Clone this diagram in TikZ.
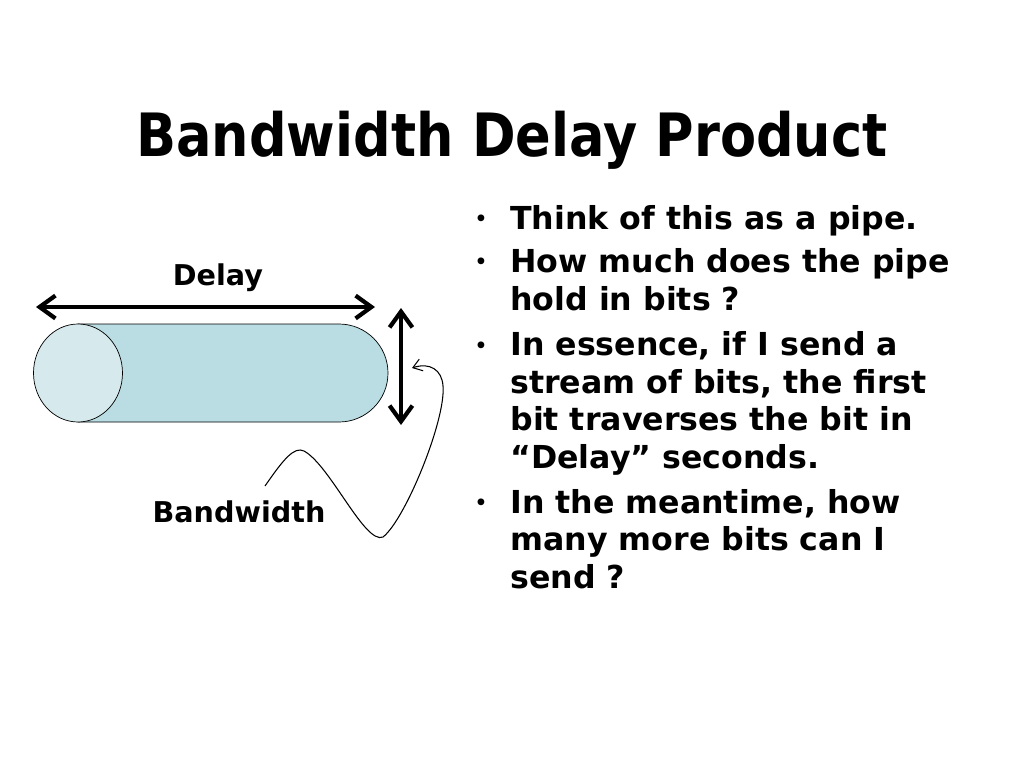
\documentclass[tikz,border=0pt]{standalone}
\usepackage{fontspec}
\setmainfont{DejaVu Sans}
\usetikzlibrary{arrows.meta}
\definecolor{pipebody}{RGB}{185,221,226}
\definecolor{pipeend}{RGB}{214,234,238}
\tikzset{
  bigarrow/.style={line width=2.4pt,{Straight Barb[length=9pt,width=13pt]}-{Straight Barb[length=9pt,width=13pt]}},
  thinarrow/.style={line width=0.6pt,-{Straight Barb[length=5pt,width=7pt]}},
  bullettext/.style={anchor=base west,inner sep=0pt,align=left,font=\bfseries\fontsize{18}{21.3}\selectfont},
  dot/.style={anchor=base,inner sep=0pt,font=\bfseries\fontsize{11}{12}\selectfont},
  label/.style={anchor=base,inner sep=0pt,font=\bfseries\fontsize{16.3}{20}\selectfont}
}
\begin{document}
\begin{tikzpicture}[x=0.02cm,y=-0.02cm]
        \useasboundingbox[fill=white] (0,0) rectangle (1024,768);
        % title
        \node[anchor=base,inner sep=0pt,xscale=0.88,font=\bfseries\fontsize{34}{40}\selectfont] (title) at (512,156) {Bandwidth Delay Product};

        % the pipe
        \coordinate (L) at (78,373);
        \coordinate (R) at (339,373);
        \draw[fill=pipebody] (78,324) -- (339,324) arc[start angle=-90,end angle=90,radius=49] -- (78,422) -- cycle;
        \draw[fill=pipeend] (L) ellipse[x radius=44.5,y radius=49];

        % delay and bandwidth arrows
        \coordinate (DL) at (36,307);
        \coordinate (DR) at (375,307);
        \draw[bigarrow] (DL) -- (DR);
        \node[label] (delay) at (218,285) {Delay};
        \coordinate (BT) at (401,308);
        \coordinate (BB) at (401,425);
        \draw[bigarrow] (BT) -- (BB);

        \node[label] (bw) at (239,522) {Bandwidth};
        \coordinate (S) at (265,486);
        \coordinate (T) at (412,368);
        \draw[thinarrow] (S) .. controls (283,460) and (294,446) .. (304,451)
              .. controls (330,465) and (365,545) .. (383,537)
              .. controls (405,520) and (446,420) .. (443,386)
              .. controls (442,370) and (430,362) .. (T);

        % bullets (text anchored at the last line)
        \node[dot] (d1) at (481,225) {•};
        \node[bullettext] (b1) at (510,229) {Think of this as a pipe.};
        \node[dot] (d2) at (481,268) {•};
        \node[bullettext] (b2) at (510,310) {How much does the pipe\\hold in bits ?};
        \node[dot] (d3) at (481,352) {•};
        \node[bullettext] (b3) at (510,468) {In essence, if I send a\\stream of bits, the first\\bit traverses the bit in\\“Delay” seconds.};
        \node[dot] (d4) at (481,509) {•};
        \node[bullettext] (b4) at (510,588) {In the meantime, how\\many more bits can I\\send ?};
        \end{tikzpicture}
\end{document}
